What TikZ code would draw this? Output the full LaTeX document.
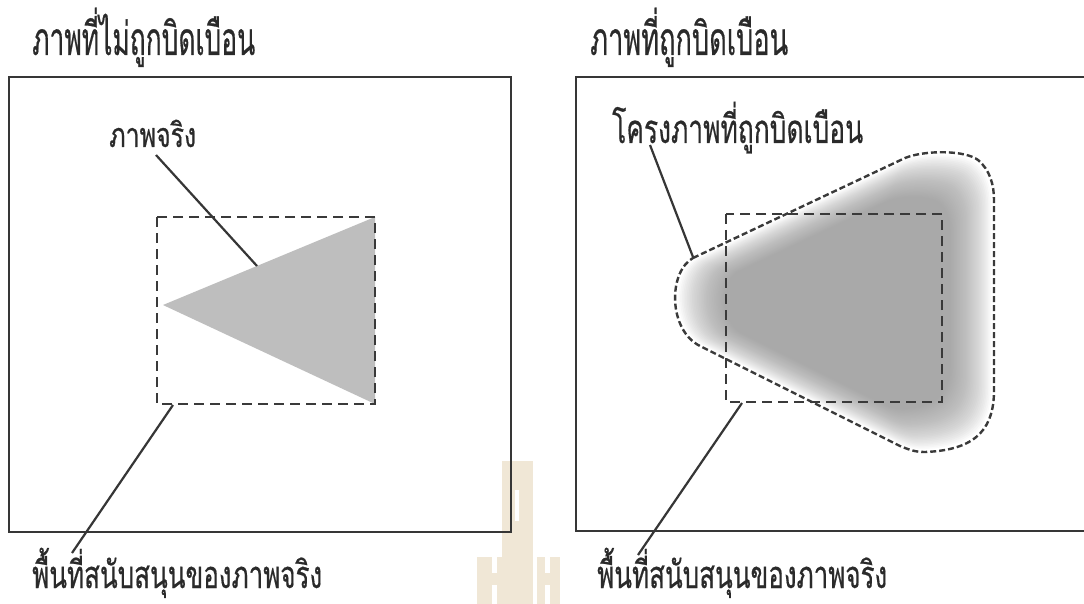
\documentclass[tikz,border=0pt]{standalone}
\usepackage{fontspec}
\usepackage{graphicx}
\newfontfamily\thaifont[Script=Thai,FakeBold=0.6]{Loma}
\definecolor{linec}{HTML}{363636}
\definecolor{dashc}{HTML}{3A3A3A}
\definecolor{txtc}{HTML}{2A2A2A}
\definecolor{trif}{HTML}{BEBEBE}
\definecolor{blobf}{HTML}{929292}
\definecolor{wmark}{HTML}{F0E7D6}
\newcommand\tfit[3]{{\fontsize{#1}{#1}\selectfont\resizebox{#2pt}{\height}{#3}}}
\begin{document}
\begin{tikzpicture}[x=1pt,y=-1pt,
  frame/.style={draw=linec, line width=2.8pt},
  dashbox/.style={draw=dashc, line width=2.6pt, dash pattern=on 10pt off 6pt},
  blobline/.style={draw=dashc, line width=2.4pt, dash pattern=on 6pt off 3pt},
  leader/.style={draw=linec, line width=2.2pt},
  lbl/.style={inner sep=0pt, anchor=base west, text=txtc, font=\thaifont}]
\useasboundingbox (0,0) rectangle (1084,604);
\fill[white] (0,0) rectangle (1084,604);
% watermark (faint logo)
\fill[wmark] (502,461) rectangle (533,604);
\fill[white] (515,490) rectangle (519,521);
\fill[wmark] (477,557) rectangle (510,604);
\fill[white] (492,557) rectangle (497,573);
\fill[white] (492,585) rectangle (497,604);
\fill[wmark] (537,557) rectangle (560,604);
\fill[white] (545,557) rectangle (550,573);
\fill[white] (545,585) rectangle (550,604);
% left panel
\node[lbl] (t1) at (32,55) {\tfit{46}{223}{ภาพที่ไม่ถูกบิดเบือน}};
\draw[frame] (9,77) rectangle (511,532);
\coordinate (tip) at (163,305);
\coordinate (tr) at (375,217);
\coordinate (br) at (375,404);
\fill[trif] (tip) -- (tr) -- (br) -- cycle;
\draw[dashbox] (157,217) rectangle (375,404);
\node[lbl] (real) at (109,147) {\tfit{34}{87}{ภาพจริง}};
\coordinate (realpt) at (257,266);
\draw[leader] (156,155) -- (realpt);
\coordinate (sup1) at (173,405);
\coordinate (end1) at (72,553);
\node[lbl] (s1) at (32,588) {\tfit{38}{290}{พื้นที่สนับสนุนของภาพจริง}};
\draw[leader] (sup1) -- (end1);
% right panel
\node[lbl] (t2) at (590,55) {\tfit{46}{198}{ภาพที่ถูกบิดเบือน}};
\draw[frame] (1090,77) -- (576,77) -- (576,531) -- (1090,531);
\foreach \s in {0.98,0.97,...,0.71}{
  \fill[blobf, opacity=0.042, shift={(845,305)}, scale=\s, shift={(-845,-305)}]
    (693,258) -- (905,158) .. controls (925,150) and (965,150) .. (978,160)
    .. controls (990,170) and (994,185) .. (994,200) -- (994,390)
    .. controls (994,425) and (980,450) .. (925,452)
    .. controls (915,452) and (910,450) .. (900,446) -- (700,346)
    .. controls (668,330) and (668,272) .. (693,258) -- cycle;
}
\draw[blobline]
    (693,258) -- (905,158) .. controls (925,150) and (965,150) .. (978,160)
    .. controls (990,170) and (994,185) .. (994,200) -- (994,390)
    .. controls (994,425) and (980,450) .. (925,452)
    .. controls (915,452) and (910,450) .. (900,446) -- (700,346)
    .. controls (668,330) and (668,272) .. (693,258) -- cycle;
\draw[dashbox] (726,214) rectangle (942,402);
\node[lbl] (t3) at (612,143) {\tfit{40}{251}{โครงภาพที่ถูกบิดเบือน}};
\coordinate (blobpt) at (693,257);
\draw[leader] (650,145) -- (blobpt);
\coordinate (sup2) at (742,403);
\coordinate (end2) at (638,555);
\node[lbl] (s2) at (597,588) {\tfit{38}{290}{พื้นที่สนับสนุนของภาพจริง}};
\draw[leader] (sup2) -- (end2);
\end{tikzpicture}
\end{document}
